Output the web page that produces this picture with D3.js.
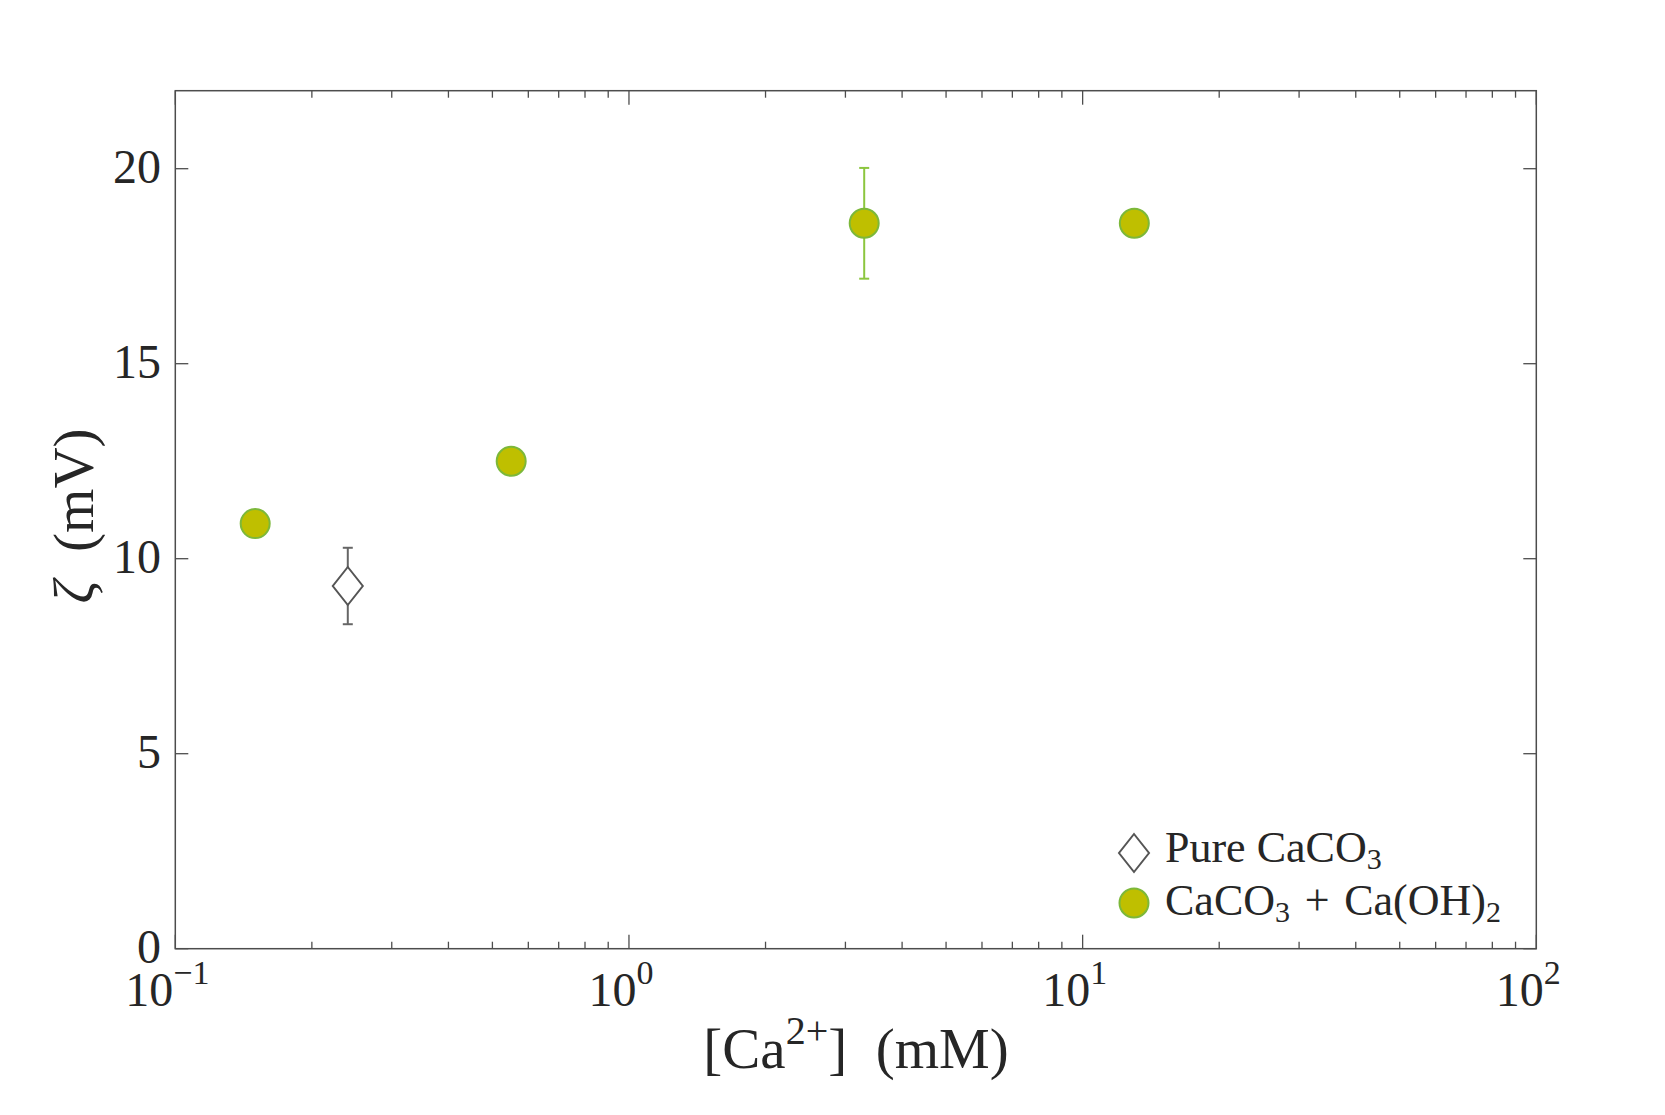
<!DOCTYPE html>
<html><head><meta charset="utf-8">
<script src="https://cdn.jsdelivr.net/npm/d3@7"></script>
<style>body{margin:0;background:#fff;} svg{display:block;} text{font-family:"Liberation Serif","DejaVu Serif",serif;fill:#262626;}</style>
</head><body>
<svg id="c" width="1665" height="1115"></svg>
<script>
// Data
const pureX = [0.24];
const pureY = [9.3];
const pureErr = [0.98];
const mixX = [0.15, 0.55, 3.3, 13.0];
const mixY = [10.9, 12.5, 18.6, 18.6];
const mixErr = [0, 0, 1.42, 0];
const yTicks = [0, 5, 10, 15, 20];
const xMajor = [0.1, 1, 10, 100];
const xExp = ["\u22121", "0", "1", "2"];
const legendLabels = ["Pure CaCO3", "CaCO3 + Ca(OH)2"];

const svg = d3.select("#c");
const L = 175.3, R = 1536.3, T = 90.7, B = 948.7;
const x = d3.scaleLog().domain([0.1, 100]).range([L, R]);
const y = d3.scaleLinear().domain([0, 22]).range([B, T]);
const axisCol = "#4d4d4d";

// minor ticks
const minor = [];
for (let e = -1; e < 2; e++) for (let k = 2; k <= 9; k++) minor.push(k * Math.pow(10, e));

const g = svg.append("g");
[B, T].forEach((yy, i) => {
  const dir = i === 0 ? -1 : 1;
  g.selectAll(null).data(minor).enter().append("line")
    .attr("x1", d => x(d)).attr("x2", d => x(d))
    .attr("y1", yy).attr("y2", yy + dir * 7)
    .attr("stroke", axisCol).attr("stroke-width", 1.3);
  g.selectAll(null).data(xMajor).enter().append("line")
    .attr("x1", d => x(d)).attr("x2", d => x(d))
    .attr("y1", yy).attr("y2", yy + dir * 14)
    .attr("stroke", axisCol).attr("stroke-width", 1.3);
});
[L, R].forEach((xx, i) => {
  const dir = i === 0 ? 1 : -1;
  g.selectAll(null).data(yTicks).enter().append("line")
    .attr("x1", xx).attr("x2", xx + dir * 13)
    .attr("y1", d => y(d)).attr("y2", d => y(d))
    .attr("stroke", axisCol).attr("stroke-width", 1.3);
});
g.append("rect").attr("x", L).attr("y", T).attr("width", R - L).attr("height", B - T)
  .attr("fill", "none").attr("stroke", axisCol).attr("stroke-width", 1.5);

// y tick labels
g.selectAll(null).data(yTicks).enter().append("text")
  .attr("x", 161).attr("y", d => y(d) + 14)
  .attr("text-anchor", "end").attr("font-size", 48).text(d => d);

// x tick labels
xMajor.forEach((d, i) => {
  const t = g.append("text").attr("x", x(d) - 8).attr("y", 1006)
    .attr("text-anchor", "middle").attr("font-size", 48);
  t.append("tspan").text("10");
  t.append("tspan").attr("dy", -22).attr("font-size", 34).text(xExp[i]);
});

// axis titles
const xt = svg.append("text").attr("x", 856).attr("y", 1068).attr("text-anchor", "middle").attr("font-size", 57);
xt.append("tspan").text("[Ca");
xt.append("tspan").attr("dy", -24).attr("font-size", 40).text("2+");
xt.append("tspan").attr("dy", 24).text("]\u2002(mM)");

const yt = svg.append("text").attr("transform", "translate(93,516) rotate(-90)").attr("text-anchor", "middle").attr("font-size", 57);
yt.append("tspan").attr("font-style", "italic").text("\u03B6");
yt.append("tspan").text("\u2002(mV)");

// error bars
function errBars(xs, ys, es, col) {
  xs.forEach((xv, i) => {
    if (!es[i]) return;
    const cx = x(xv), y1 = y(ys[i] + es[i]), y2 = y(ys[i] - es[i]);
    g.append("line").attr("x1", cx).attr("x2", cx).attr("y1", y1).attr("y2", y2).attr("stroke", col).attr("stroke-width", 2);
    [y1, y2].forEach(yy => g.append("line").attr("x1", cx - 5).attr("x2", cx + 5).attr("y1", yy).attr("y2", yy).attr("stroke", col).attr("stroke-width", 2));
  });
}
errBars(pureX, pureY, pureErr, "#666");
errBars(mixX, mixY, mixErr, "#8cc63f");

const diamond = (cx, cy) => `M${cx},${cy - 19}L${cx + 15},${cy}L${cx},${cy + 19}L${cx - 15},${cy}Z`;
g.selectAll(null).data(pureX).enter().append("path")
  .attr("d", (d, i) => diamond(x(d), y(pureY[i])))
  .attr("fill", "#fff").attr("stroke", "#555").attr("stroke-width", 2);
g.selectAll(null).data(mixX).enter().append("circle")
  .attr("cx", d => x(d)).attr("cy", (d, i) => y(mixY[i])).attr("r", 14.5)
  .attr("fill", "#bfbf00").attr("stroke", "#7cb83a").attr("stroke-width", 2);

// legend
const lg = svg.append("g");
lg.append("path").attr("d", diamond(1134, 853)).attr("fill", "#fff").attr("stroke", "#555").attr("stroke-width", 2);
lg.append("circle").attr("cx", 1134).attr("cy", 903).attr("r", 14.5).attr("fill", "#bfbf00").attr("stroke", "#7cb83a").attr("stroke-width", 2);
function legendText(yb, s) {
  const t = lg.append("text").attr("x", 1165).attr("y", yb).attr("font-size", 44);
  const parts = s.replace(" + ", "\u2004+\u2004").split(/(\d)/);
  let sub = false;
  parts.forEach(p => {
    if (!p) return;
    if (/^\d$/.test(p)) { t.append("tspan").attr("font-size", 30).attr("dy", 7).text(p); sub = true; }
    else { t.append("tspan").attr("dy", sub ? -7 : 0).text(p); sub = false; }
  });
}
legendText(862, legendLabels[0]);
legendText(915, legendLabels[1]);
</script>
</body></html>
